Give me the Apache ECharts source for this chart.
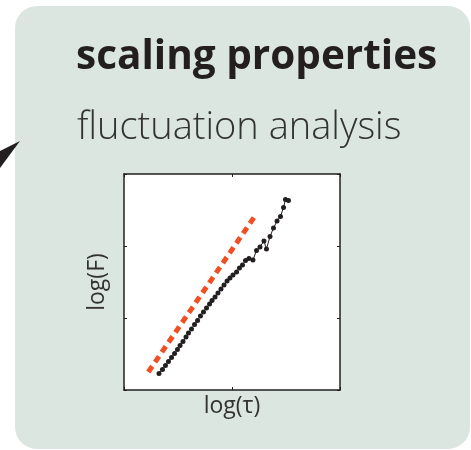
<!DOCTYPE html>
<html>
<head>
<meta charset="utf-8">
<script src="https://cdn.jsdelivr.net/npm/echarts@6/dist/echarts.min.js"></script>
<style>
  html, body { margin: 0; padding: 0; background: #ffffff; }
  #chart { width: 471px; height: 450px; }
</style>
</head>
<body>
<div id="chart"></div>
<script>
// Fluctuation function vs. window size, both on log scales
const logTau = [0.324, 0.356, 0.384, 0.412, 0.440, 0.468, 0.495, 0.519, 0.546, 0.574,
                0.597, 0.625, 0.653, 0.681, 0.708, 0.736, 0.764, 0.792, 0.815, 0.843,
                0.870, 0.898, 0.926, 0.954, 0.981, 1.009, 1.042, 1.069, 1.097, 1.125,
                1.157, 1.194, 1.227, 1.259, 1.296, 1.319, 1.352, 1.384, 1.417, 1.449,
                1.477, 1.495, 1.523];
const logF   = [0.229, 0.285, 0.340, 0.396, 0.451, 0.507, 0.563, 0.618, 0.674, 0.736,
                0.792, 0.847, 0.910, 0.965, 1.028, 1.083, 1.139, 1.194, 1.243, 1.292,
                1.347, 1.403, 1.458, 1.514, 1.556, 1.597, 1.639, 1.694, 1.736, 1.799,
                1.826, 1.806, 1.938, 1.986, 2.069, 1.958, 2.132, 2.250, 2.347, 2.410,
                2.535, 2.646, 2.632];
// Reference scaling slope drawn as a dashed guide
const guideTau = [0.225, 1.213];
const guideF   = [0.250, 2.417];

const xRange = [0, 2];
const yRange = [0, 3];

const measured = logTau.map((t, i) => [t, logF[i]]);
const guide = guideTau.map((t, i) => [t, guideF[i]]);

const ink = '#231f20';
const tickStyle = { show: true, inside: true, length: 3, lineStyle: { color: ink, width: 1 } };
const nameFont = { fontFamily: 'Open Sans', fontSize: 23, color: '#333333' };

function xAx(pos, name) {
  return {
    type: 'value', position: pos, min: xRange[0], max: xRange[1], interval: 1,
    axisLine: { show: true, onZero: false, lineStyle: { color: ink, width: 1.5 } },
    axisTick: tickStyle, axisLabel: { show: false }, splitLine: { show: false },
    name: name || '', nameLocation: 'middle', nameGap: 5,
    nameTextStyle: Object.assign({ verticalAlign: 'top' }, nameFont)
  };
}
function yAx(pos, name) {
  return {
    type: 'value', position: pos, min: yRange[0], max: yRange[1], interval: 1,
    axisLine: { show: true, onZero: false, lineStyle: { color: ink, width: 1.5 } },
    axisTick: tickStyle, axisLabel: { show: false }, splitLine: { show: false },
    name: name || '', nameLocation: 'middle', nameGap: 15,
    nameTextStyle: nameFont
  };
}

const chart = echarts.init(document.getElementById('chart'), null, { renderer: 'canvas' });
chart.setOption({
  animation: false,
  backgroundColor: '#ffffff',
  graphic: [
    { type: 'rect', z: -10, shape: { x: 15, y: 6, width: 455, height: 443, r: 22 },
      style: { fill: '#dae6df' }, silent: true },
    { type: 'polygon', z: -9, shape: { points: [[0, 151], [20, 141], [0, 168]] },
      style: { fill: ink }, silent: true },
    { type: 'text', left: 76, top: 37, z: 5,
      style: { text: 'scaling properties', fill: ink,
               font: 'bold 40.5px "Open Sans"' } },
    { type: 'text', left: 77, top: 109, z: 5,
      style: { text: 'fluctuation analysis', fill: '#333333',
               font: '300 38px "Open Sans"' } }
  ],
  grid: { left: 124, top: 174, width: 216, height: 216, show: true,
          backgroundColor: '#ffffff', borderWidth: 0 },
  xAxis: [xAx('bottom', 'log(τ)'), xAx('top')],
  yAxis: [yAx('left', 'log(F)'), yAx('right')],
  series: [
    { type: 'line', data: guide, xAxisIndex: 0, yAxisIndex: 0, symbol: 'none',
      lineStyle: { color: '#f04e23', width: 5, type: [7, 5], cap: 'butt' }, z: 2 },
    { type: 'line', data: measured, xAxisIndex: 0, yAxisIndex: 0,
      symbol: 'circle', symbolSize: 5,
      itemStyle: { color: ink }, lineStyle: { color: ink, width: 1 }, z: 3 }
  ]
});
</script>
</body>
</html>
